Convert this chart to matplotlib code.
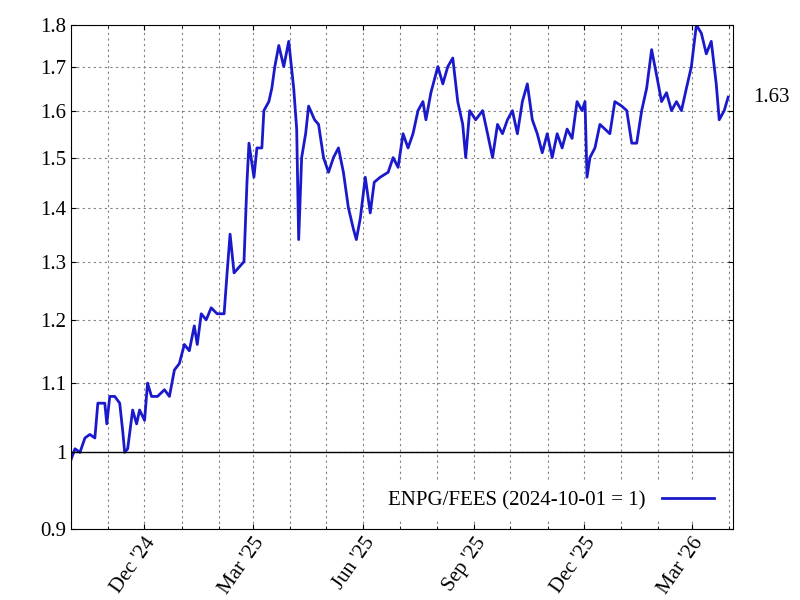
import numpy as np
import pandas as pd
import matplotlib
matplotlib.use("Agg")
import matplotlib.pyplot as plt
import matplotlib.dates as mdates
from matplotlib.ticker import FixedLocator, NullLocator

plt.rcParams['font.family'] = ['Liberation Serif', 'DejaVu Serif']

start = pd.Timestamp("2024-10-01")
# sample positions, in steps of ~0.826 day, from the start date
steps = [0, 4, 9, 14, 19, 24, 27, 34, 36, 39, 44, 49, 52, 54, 57, 62, 66, 69, 74, 77,
         81, 87, 94, 99, 104, 109, 114, 119, 124, 127, 131, 136, 141, 147, 154, 157, 160, 164, 169, 174,
         177, 179, 184, 187, 192, 194, 199, 202, 205, 209, 214, 219, 224, 227, 229, 232, 236, 239, 245, 249,
         254, 259, 264, 269, 274, 279, 284, 287, 291, 296, 301, 305, 311, 319, 324, 329, 334, 339, 344, 349,
         354, 357, 362, 369, 374, 379, 384, 389, 394, 397, 401, 407, 414, 419, 424, 429, 434, 439, 444, 449,
         454, 459, 464, 469, 474, 479, 484, 489, 494, 499, 504, 509, 514, 517, 519, 522, 527, 532, 537, 542,
         547, 554, 559, 564, 569, 574, 579, 584, 589, 594, 599, 604, 609, 614, 619, 624, 629, 634, 639, 644,
         649, 652, 657, 661]
values = [0.99, 1.005, 1.0, 1.02, 1.025, 1.02, 1.07, 1.07, 1.04, 1.08, 1.08, 1.07, 1.03, 1.0, 1.005, 1.06, 1.04, 1.06, 1.045, 1.1,
          1.08, 1.08, 1.09, 1.08, 1.12, 1.13, 1.16, 1.15, 1.19, 1.16, 1.21, 1.2, 1.22, 1.21, 1.21, 1.28, 1.35, 1.28, 1.29, 1.3,
          1.45, 1.53, 1.46, 1.52, 1.52, 1.6, 1.62, 1.65, 1.7, 1.75, 1.7, 1.76, 1.65, 1.56, 1.34, 1.5, 1.55, 1.61, 1.58, 1.57,
          1.5, 1.47, 1.5, 1.52, 1.47, 1.4, 1.36, 1.34, 1.38, 1.46, 1.39, 1.45, 1.46, 1.47, 1.5, 1.48, 1.55, 1.52, 1.55, 1.6,
          1.62, 1.58, 1.64, 1.7, 1.66, 1.7, 1.72, 1.62, 1.57, 1.5, 1.6, 1.58, 1.6, 1.55, 1.5, 1.57, 1.55, 1.58, 1.6, 1.55,
          1.62, 1.66, 1.58, 1.55, 1.51, 1.55, 1.5, 1.55, 1.52, 1.56, 1.54, 1.62, 1.6, 1.62, 1.46, 1.5, 1.52, 1.57, 1.56, 1.55,
          1.62, 1.61, 1.6, 1.53, 1.53, 1.6, 1.65, 1.74, 1.68, 1.62, 1.64, 1.6, 1.62, 1.6, 1.65, 1.7, 1.8, 1.78, 1.73, 1.76,
          1.66, 1.58, 1.6, 1.63]
label = "ENPG/FEES (2024-10-01 = 1)"
last_label = "1.63"

dates = [start + pd.Timedelta(days=float(s) * 0.826) for s in steps]

fig = plt.figure(figsize=(8, 6), dpi=100)
ax = fig.add_axes([71 / 800, 71 / 600, 662 / 800, 504 / 600])
ax.plot(dates, values, color='#1a1acc', lw=2, label=label)
ax.axhline(1.0, color='black', lw=1)

ax.set_yscale('log')
ax.set_ylim(0.9, 1.8)
yt = [0.9, 1, 1.1, 1.2, 1.3, 1.4, 1.5, 1.6, 1.7, 1.8]
ax.yaxis.set_major_locator(FixedLocator(yt))
ax.yaxis.set_minor_locator(NullLocator())
ax.set_yticklabels([f"{v:g}" for v in yt], fontsize=15)

ax.set_xlim(start, pd.Timestamp("2026-04-04"))
ax.xaxis.set_major_locator(mdates.MonthLocator(bymonth=[3, 6, 9, 12]))
ax.xaxis.set_major_formatter(mdates.DateFormatter("%b '%y"))
ax.xaxis.set_minor_locator(mdates.MonthLocator())
for t in ax.get_xticklabels():
    t.set_fontsize(15)
    t.set_rotation(55)
    t.set_ha('right')
    t.set_rotation_mode('anchor')

ax.grid(True, which='both', axis='x', color='gray', ls=(0, (2, 3)), lw=0.8)
ax.grid(True, which='major', axis='y', color='gray', ls=(0, (2, 3)), lw=0.8)
ax.tick_params(direction='in', which='both', top=True, right=True)

ax.text(1.03, values[-1], last_label, transform=ax.get_yaxis_transform(), va='center', fontsize=15)
leg = ax.legend(loc='lower right', fontsize=15, frameon=True, fancybox=False, edgecolor='white',
                framealpha=1, markerfirst=False, handlelength=2.5)

fig.savefig("out.png", dpi=100)
